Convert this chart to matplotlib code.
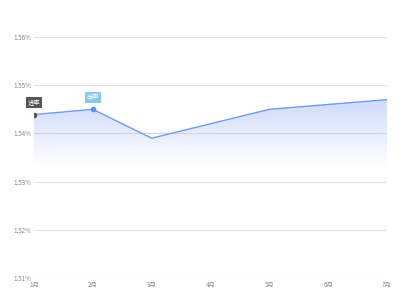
import matplotlib
matplotlib.use("Agg")
import matplotlib.pyplot as plt
import numpy as np
from matplotlib.patches import Polygon

plt.rcParams['font.family'] = ['Noto Sans CJK SC', 'DejaVu Sans']

# --- dados ---
months = ['1月', '2月', '3月', '4月', '5月', '6月', '7月']
rate   = [1.5439, 1.5450, 1.5390, 1.5420, 1.5450, 1.5460, 1.5470]
yticks = [1.51, 1.52, 1.53, 1.54, 1.55, 1.56]
tags   = ['进率', '出率']
tag_idx = [0, 1]

x = np.arange(len(months))
y = np.array(rate)

fig = plt.figure(figsize=(4, 3), dpi=100)
ax = fig.add_axes([0.085, 0.0733, 0.8825, 0.8034])
ax.set_xlim(0, len(months) - 1)
ax.set_ylim(1.51, 1.56)

# grelha
for v in yticks:
    ax.axhline(v, color='#e3e3e3', linewidth=0.8, zorder=0)

# preenchimento com gradiente
verts = np.column_stack([np.r_[x, x[::-1]], np.r_[y, np.full(len(x), 1.51)]])
poly = Polygon(verts, closed=True, facecolor='none', edgecolor='none')
ax.add_patch(poly)
n = 256
grad = np.zeros((n, 1, 4))
grad[:, 0, :3] = np.array([0.82, 0.87, 0.99])
levels = np.linspace(1.56, 1.51, n)
grad[:, 0, 3] = np.clip((levels - 1.5330) / (1.5460 - 1.5330), 0, 1)
img = ax.imshow(grad, extent=[0, len(months) - 1, 1.51, 1.56], aspect='auto',
                zorder=1, interpolation='bilinear')
img.set_clip_path(poly)

ax.axhline(1.54, color='#d6d2ee', linewidth=0.8, zorder=2)

ax.plot(x, y, color='#6f9cf2', linewidth=1.0, zorder=3)

# marcadores e etiquetas
tag_colors = ['#555555', '#86c9ec']
dot_colors = ['#555555', '#5b8ef0']
for i, t, bc, dc in zip(tag_idx, tags, tag_colors, dot_colors):
    ax.plot(x[i], y[i], 'o', color=dc, markersize=3, zorder=4)
    ax.annotate(t, (x[i], y[i]), xytext=(0, 8.5), textcoords='offset points',
                ha='center', va='center', fontsize=4.5, color='white',
                bbox=dict(boxstyle='square,pad=0.25', fc=bc, ec='none'),
                zorder=5)

ax.set_xticks(x)
ax.set_xticklabels(months)
ax.set_yticks(yticks)
ax.set_yticklabels([f'{v:.2f}%' for v in yticks])
ax.tick_params(axis='both', length=0, labelsize=4.5, colors='#888888', pad=2)
for s in ax.spines.values():
    s.set_visible(False)

plt.savefig("out.png", dpi=100)
